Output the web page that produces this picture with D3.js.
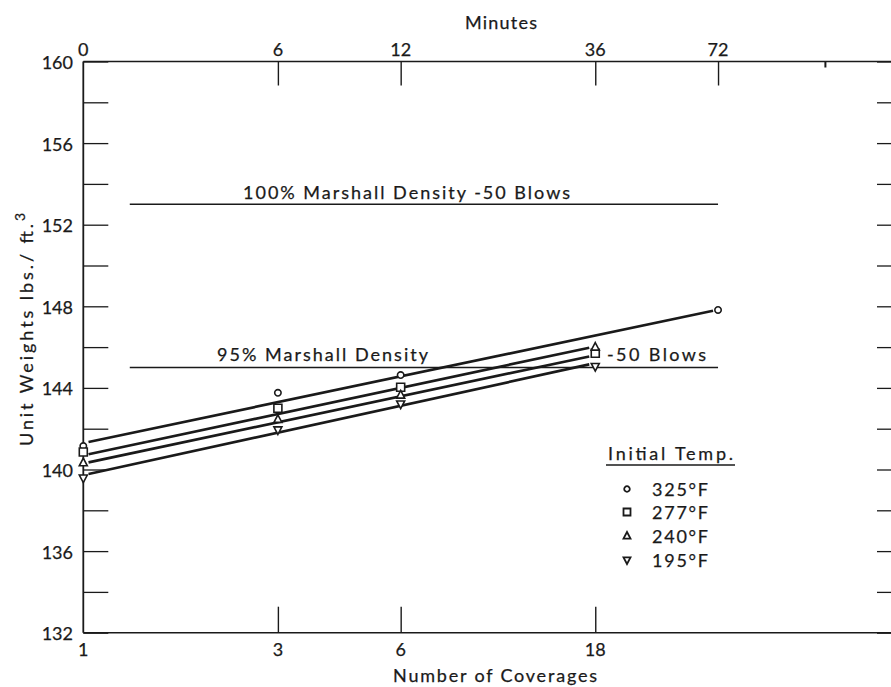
<!DOCTYPE html>
<html>
<head>
<meta charset="utf-8">
<script src="https://cdn.jsdelivr.net/npm/d3@7/dist/d3.min.js"></script>
<style>
  html, body { margin: 0; padding: 0; background: #fff; }
  svg { display: block; }
  text { font-family: Lato, "DejaVu Sans", sans-serif; fill: #1a1a1a; stroke: #1a1a1a; stroke-width: 0.25; }
</style>
</head>
<body>
<svg id="chart" width="891" height="687"></svg>
<script>
// Unit weight vs. compaction coverages, by initial mix temperature
const coverageTicks = [1, 3, 6, 18];
const minuteCoverages = [1, 3, 6, 18, 36];
const minuteLabels = ["0", "6", "12", "36", "72"];
const weightTicks = [132, 136, 140, 144, 148, 152, 156, 160];
const weightMinor = [134, 138, 142, 146, 150, 154, 158];

const seriesNames = ["325°F", "277°F", "240°F", "195°F"];
const seriesSymbols = ["circle", "square", "triangle", "invtriangle"];
const seriesCoverages = [
  [1, 3, 6, 36],
  [1, 3, 6, 18],
  [1, 3, 6, 18],
  [1, 3, 6, 18]
];
const seriesValues = [
  [141.15, 143.76, 144.63, 147.82],
  [140.86, 143.0, 144.03, 145.7],
  [140.33, 142.46, 143.65, 146.0],
  [139.58, 141.94, 143.21, 145.05]
];
// fitted trend lines: start/end coverage and value
const fitFrom = [1.03, 1.03, 1.03, 1.03];
const fitTo = [35, 17.4, 17.4, 17.4];
const fitFromValue = [141.35, 140.75, 140.35, 139.78];
const fitToValue = [147.78, 145.97, 145.54, 145.15];

// Marshall density reference lines
const refValues = [153, 145];
const refFrom = [1.3, 1.3];
const refTo = [36, 36];

const svg = d3.select("#chart");
const x = d3.scaleLog().domain([1, 100]).range([83.3, 899]);
const y = d3.scaleLinear().domain([132, 160]).range([632.7, 61.5]);
const ink = "#1a1a1a";
const fs = 18;

// frame
const frame = svg.append("g").attr("stroke", ink).attr("fill", "none");
frame.append("line").attr("x1", x(1)).attr("x2", x(100)).attr("y1", y(160)).attr("y2", y(160)).attr("stroke-width", 1.6);
frame.append("line").attr("x1", x(1)).attr("x2", x(100)).attr("y1", y(132)).attr("y2", y(132)).attr("stroke-width", 1.6);
frame.append("line").attr("x1", x(1)).attr("x2", x(1)).attr("y1", y(132)).attr("y2", y(160)).attr("stroke-width", 1.8);
frame.append("line").attr("x1", x(100)).attr("x2", x(100)).attr("y1", y(132)).attr("y2", y(160)).attr("stroke-width", 1.8);

// left axis
const leftAxis = d3.axisRight(y).tickValues(weightTicks.concat(weightMinor)).tickSize(25).tickFormat("");
svg.append("g").attr("transform", `translate(${x(1)},0)`).call(leftAxis)
  .call(g => g.select(".domain").remove())
  .call(g => g.selectAll(".tick line").attr("stroke", ink).attr("stroke-width", 1.3));
svg.append("g").selectAll("text").data(weightTicks).join("text")
  .attr("x", 73).attr("y", d => y(d) + 7.5)
  .attr("text-anchor", "end").attr("font-size", fs).text(d => d);

// right axis ticks
const rightAxis = d3.axisLeft(y).tickValues(weightTicks.concat(weightMinor)).tickSize(22).tickFormat("");
svg.append("g").attr("transform", `translate(${x(100)},0)`).call(rightAxis)
  .call(g => g.select(".domain").remove())
  .call(g => g.selectAll(".tick line").attr("stroke", ink).attr("stroke-width", 1.3));

// bottom axis: number of coverages
const bottomAxis = d3.axisTop(x).tickValues(coverageTicks.slice(1)).tickSize(26).tickFormat("");
svg.append("g").attr("transform", `translate(0,${y(132)})`).call(bottomAxis)
  .call(g => g.select(".domain").remove())
  .call(g => g.selectAll(".tick line").attr("stroke", ink).attr("stroke-width", 1.4));
svg.append("g").selectAll("text").data(coverageTicks).join("text")
  .attr("x", d => x(d)).attr("y", 656)
  .attr("text-anchor", "middle").attr("font-size", fs).text(d => d);
svg.append("text").attr("x", 393).attr("y", 682).attr("font-size", fs)
  .attr("textLength", 204).attr("lengthAdjust", "spacing").text("Number of Coverages");

// top axis: minutes
const topAxis = d3.axisBottom(x).tickValues(minuteCoverages.slice(1)).tickSize(24).tickFormat("");
svg.append("g").attr("transform", `translate(0,${y(160)})`).call(topAxis)
  .call(g => g.select(".domain").remove())
  .call(g => g.selectAll(".tick line").attr("stroke", ink).attr("stroke-width", 1.4));
svg.append("line").attr("x1", x(66)).attr("x2", x(66)).attr("y1", y(160)).attr("y2", y(160) + 6)
  .attr("stroke", ink).attr("stroke-width", 2);
svg.append("g").selectAll("text").data(minuteCoverages).join("text")
  .attr("x", d => x(d)).attr("y", 56)
  .attr("text-anchor", "middle").attr("font-size", fs).text((d, i) => minuteLabels[i]);
svg.append("text").attr("x", 465).attr("y", 29).attr("font-size", fs)
  .attr("textLength", 72).attr("lengthAdjust", "spacing").text("Minutes");

// y axis title
svg.append("text")
  .attr("transform", `translate(33,446) rotate(-90)`)
  .attr("font-size", fs)
  .call(t => {
    t.append("tspan").attr("textLength", 222).attr("lengthAdjust", "spacing").text("Unit Weights lbs./ ft.");
    t.append("tspan").attr("dy", -8).attr("font-size", 14).text("3");
  });

// reference density lines
svg.append("g").selectAll("line").data(refValues).join("line")
  .attr("x1", (d, i) => x(refFrom[i])).attr("x2", (d, i) => x(refTo[i]))
  .attr("y1", d => y(d)).attr("y2", d => y(d))
  .attr("stroke", ink).attr("stroke-width", 1.6);
svg.append("text").attr("x", 243).attr("y", 199).attr("font-size", fs)
  .attr("textLength", 327).attr("lengthAdjust", "spacing").text("100% Marshall Density -50 Blows");
svg.append("text").attr("x", 217).attr("y", 361).attr("font-size", fs)
  .attr("textLength", 211).attr("lengthAdjust", "spacing").text("95% Marshall Density");
svg.append("text").attr("x", 607).attr("y", 361).attr("font-size", fs)
  .attr("textLength", 99).attr("lengthAdjust", "spacing").text("-50 Blows");

// fitted lines
svg.append("g").selectAll("line").data(seriesNames).join("line")
  .attr("x1", (d, i) => x(fitFrom[i])).attr("y1", (d, i) => y(fitFromValue[i]))
  .attr("x2", (d, i) => x(fitTo[i])).attr("y2", (d, i) => y(fitToValue[i]))
  .attr("stroke", ink).attr("stroke-width", 2.7);

// marker shapes
function symbolPath(kind, s) {
  if (kind === "circle") return d3.symbol(d3.symbolCircle, s * s * 0.5)();
  if (kind === "square") return `M${-s/2},${-s/2}h${s}v${s}h${-s}Z`;
  const h = s * 0.95;
  if (kind === "triangle") return `M0,${-h*0.6}L${s/2},${h*0.4}L${-s/2},${h*0.4}Z`;
  return `M0,${h*0.6}L${s/2},${-h*0.4}L${-s/2},${-h*0.4}Z`;
}

const pts = [];
seriesValues.forEach((vals, i) => vals.forEach((v, j) =>
  pts.push({ kind: seriesSymbols[i], c: seriesCoverages[i][j], v })));
svg.append("g").selectAll("path").data(pts).join("path")
  .attr("transform", d => `translate(${x(d.c)},${y(d.v)})`)
  .attr("d", d => symbolPath(d.kind, 8))
  .attr("fill", "#fff").attr("stroke", ink).attr("stroke-width", 1.6);

// legend
svg.append("text").attr("x", 608).attr("y", 460).attr("font-size", fs)
  .attr("textLength", 125).attr("lengthAdjust", "spacing").text("Initial Temp.");
svg.append("line").attr("x1", 606).attr("x2", 735).attr("y1", 465).attr("y2", 465)
  .attr("stroke", ink).attr("stroke-width", 1.6);
const legendY = [489, 512, 536, 560];
const lg = svg.append("g").selectAll("g").data(seriesNames).join("g")
  .attr("transform", (d, i) => `translate(0,${legendY[i]})`);
lg.append("path").attr("transform", "translate(627,0)")
  .attr("d", (d, i) => symbolPath(seriesSymbols[i], 7))
  .attr("fill", "#fff").attr("stroke", ink).attr("stroke-width", 1.8);
lg.append("text").attr("x", 652).attr("y", 6.5).attr("font-size", fs)
  .attr("textLength", 56).attr("lengthAdjust", "spacing").text(d => d);
</script>
</body>
</html>
